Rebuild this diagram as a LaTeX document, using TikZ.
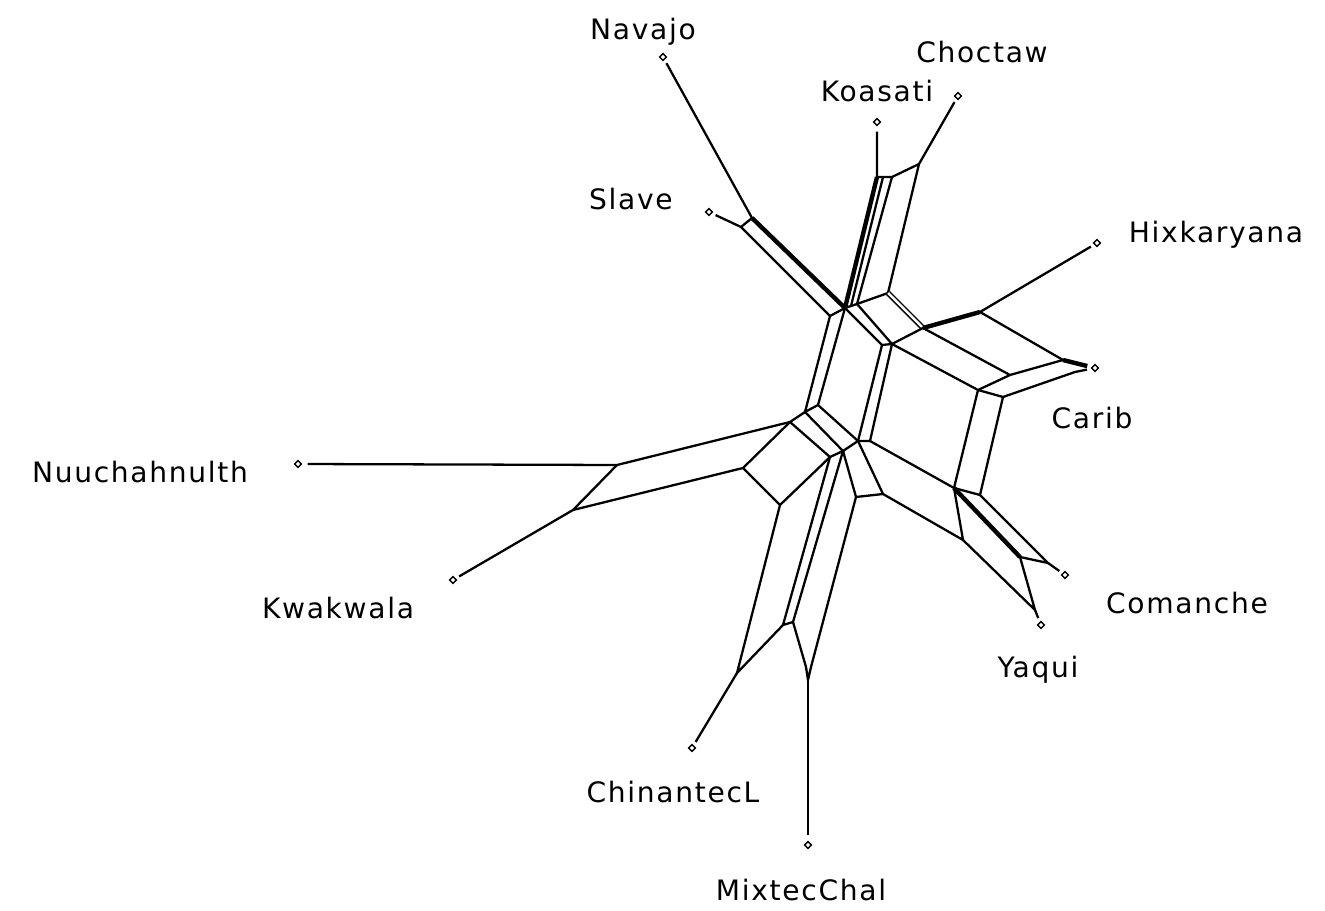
\documentclass[tikz,border=0pt]{standalone}
\usepackage{fontspec}
\setmainfont{DejaVu Sans}[LetterSpace=6]
\usepackage{tikz}
\usetikzlibrary{shapes.geometric}
\tikzset{
  leaf/.style={diamond, draw, line width=0.8pt, inner sep=0pt, minimum size=6pt, outer sep=2.5pt},
  taxon/.style={font=\fontsize{16}{19}\selectfont},
  split/.style={line width=1.3pt},
  heavysplit/.style={line width=2.5pt},
  twinsplit/.style={double, double distance=1.4pt, line width=0.9pt}
}

\begin{document}
\begin{tikzpicture}[x=0.02cm, y=-0.02cm]
\useasboundingbox (0,0) rectangle (1325,911);

% taxa
\node[leaf] (nav) at (663,57) {};
\node[leaf] (sla) at (709,212) {};
\node[leaf] (koa) at (877,122) {};
\node[leaf] (cho) at (958,96) {};
\node[leaf] (hix) at (1097,243) {};
\node[leaf] (car) at (1095,368) {};
\node[leaf] (com) at (1065,575) {};
\node[leaf] (yaq) at (1041,625) {};
\node[leaf] (mix) at (808,845) {};
\node[leaf] (chi) at (692,748) {};
\node[leaf] (kwa) at (453,580) {};
\node[leaf] (nuu) at (298,464) {};

\node[taxon] (navlbl) at (643,32) {Navajo};
\node[taxon] (cholbl) at (982,52) {Choctaw};
\node[taxon] (koalbl) at (877,91) {Koasati};
\node[taxon] (slalbl) at (631,199) {Slave};
\node[taxon] (hixlbl) at (1216,235) {Hixkaryana};
\node[taxon] (carlbl) at (1092,418) {Carib};
\node[taxon] (nuulbl) at (140,472) {Nuuchahnulth};
\node[taxon] (kwalbl) at (338,608) {Kwakwala};
\node[taxon] (comlbl) at (1187,603) {Comanche};
\node[taxon] (yaqlbl) at (1038,670) {Yaqui};
\node[taxon] (chilbl) at (673,792) {ChinantecL};
\node[taxon] (mixlbl) at (801,890) {MixtecChal};

% network vertices
\coordinate (a1) at (752,218);
\coordinate (a2) at (741,227);
\coordinate (b1) at (845,308);
\coordinate (bm) at (851,306);
\coordinate (b2) at (830,316);
\coordinate (b3) at (857,304);
\coordinate (k1) at (877,177);
\coordinate (km) at (883,177);
\coordinate (k2) at (892,177);
\coordinate (c1) at (919,164);
\coordinate (c2) at (888,293);
\coordinate (d1) at (882,345);
\coordinate (d2) at (892,344);
\coordinate (h1) at (923,328);
\coordinate (h2) at (980,312);
\coordinate (h3) at (1063,360);
\coordinate (h4) at (1010,375);
\coordinate (h5) at (978,390);
\coordinate (h6) at (1003,397);
\coordinate (h7) at (1075,372);
\coordinate (e1) at (805,412);
\coordinate (e2) at (818,405);
\coordinate (g1) at (790,422);
\coordinate (g2) at (743,468);
\coordinate (g3) at (780,505);
\coordinate (g4) at (830,457);
\coordinate (g5) at (843,451);
\coordinate (f1) at (858,441);
\coordinate (f2) at (870,441);
\coordinate (n1) at (617,465);
\coordinate (n2) at (573,510);
\coordinate (m1) at (783,625);
\coordinate (m2) at (793,622);
\coordinate (m3) at (737,673);
\coordinate (m4) at (806,667);
\coordinate (m5) at (811,667);
\coordinate (m6) at (808,680);
\coordinate (p1) at (856,497);
\coordinate (p3) at (883,494);
\coordinate (q1) at (954,488);
\coordinate (q2) at (980,495);
\coordinate (q3) at (963,540);
\coordinate (q4) at (1020,557);
\coordinate (q5) at (1048,563);
\coordinate (q6) at (1035,610);

% top left
\draw[split] (nav) -- (a1);
\draw[split] (sla) -- (a2) -- (a1);
\draw[heavysplit] (a1) -- (b1);
\draw[split] (a2) -- (b2) -- (b1) -- (bm) -- (b3) -- (c2);

% top
\draw[split] (koa) -- (k1) -- (k2) -- (c1);
\draw[split] (cho) -- (c1) -- (c2);
\draw[heavysplit] (k1) -- (b1);
\draw[split] (km) -- (bm);
\draw[split] (k2) -- (b3);

% right
\draw[twinsplit] (c2) -- (h1);
\draw[split] (b1) -- (d1) -- (d2);
\draw[split] (b3) -- (d2) -- (h1);
\draw[heavysplit] (h1) -- (h2);
\draw[split] (h2) -- (hix);
\draw[split] (h2) -- (h3);
\draw[split] (h1) -- (h4) -- (h3);
\draw[heavysplit] (h3) -- (car);
\draw[split] (d2) -- (h5) -- (h4);
\draw[split] (h5) -- (h6) -- (h7) -- (car);

% left
\draw[split] (b2) -- (e1) -- (e2) -- (b1);
\draw[split] (e1) -- (g1) -- (n1) -- (nuu);
\draw[split] (n1) -- (n2) -- (kwa);
\draw[split] (n2) -- (g2) -- (g1);
\draw[split] (g2) -- (g3) -- (g4) -- (g1);
\draw[split] (e1) -- (g5) -- (g4);
\draw[split] (e2) -- (f1) -- (g5);
\draw[split] (d1) -- (f1) -- (f2) -- (d2);

% bottom
\draw[split] (g4) -- (m1) -- (m2) -- (g5);
\draw[split] (g3) -- (m3) -- (m1);
\draw[split] (m3) -- (chi);
\draw[split] (m2) -- (m4) -- (m6) -- (m5);
\draw[split] (m6) -- (mix);
\draw[split] (g5) -- (p1) -- (p3) -- (f1);
\draw[split] (p1) -- (m5);

% bottom right
\draw[split] (f2) -- (q1) -- (h5);
\draw[split] (h6) -- (q2) -- (q1) -- (q3) -- (p3);
\draw[heavysplit] (q1) -- (q4);
\draw[split] (q2) -- (q5) -- (q4);
\draw[split] (q5) -- (com);
\draw[split] (q4) -- (q6) -- (q3);
\draw[split] (q6) -- (yaq);
\end{tikzpicture}
\end{document}
